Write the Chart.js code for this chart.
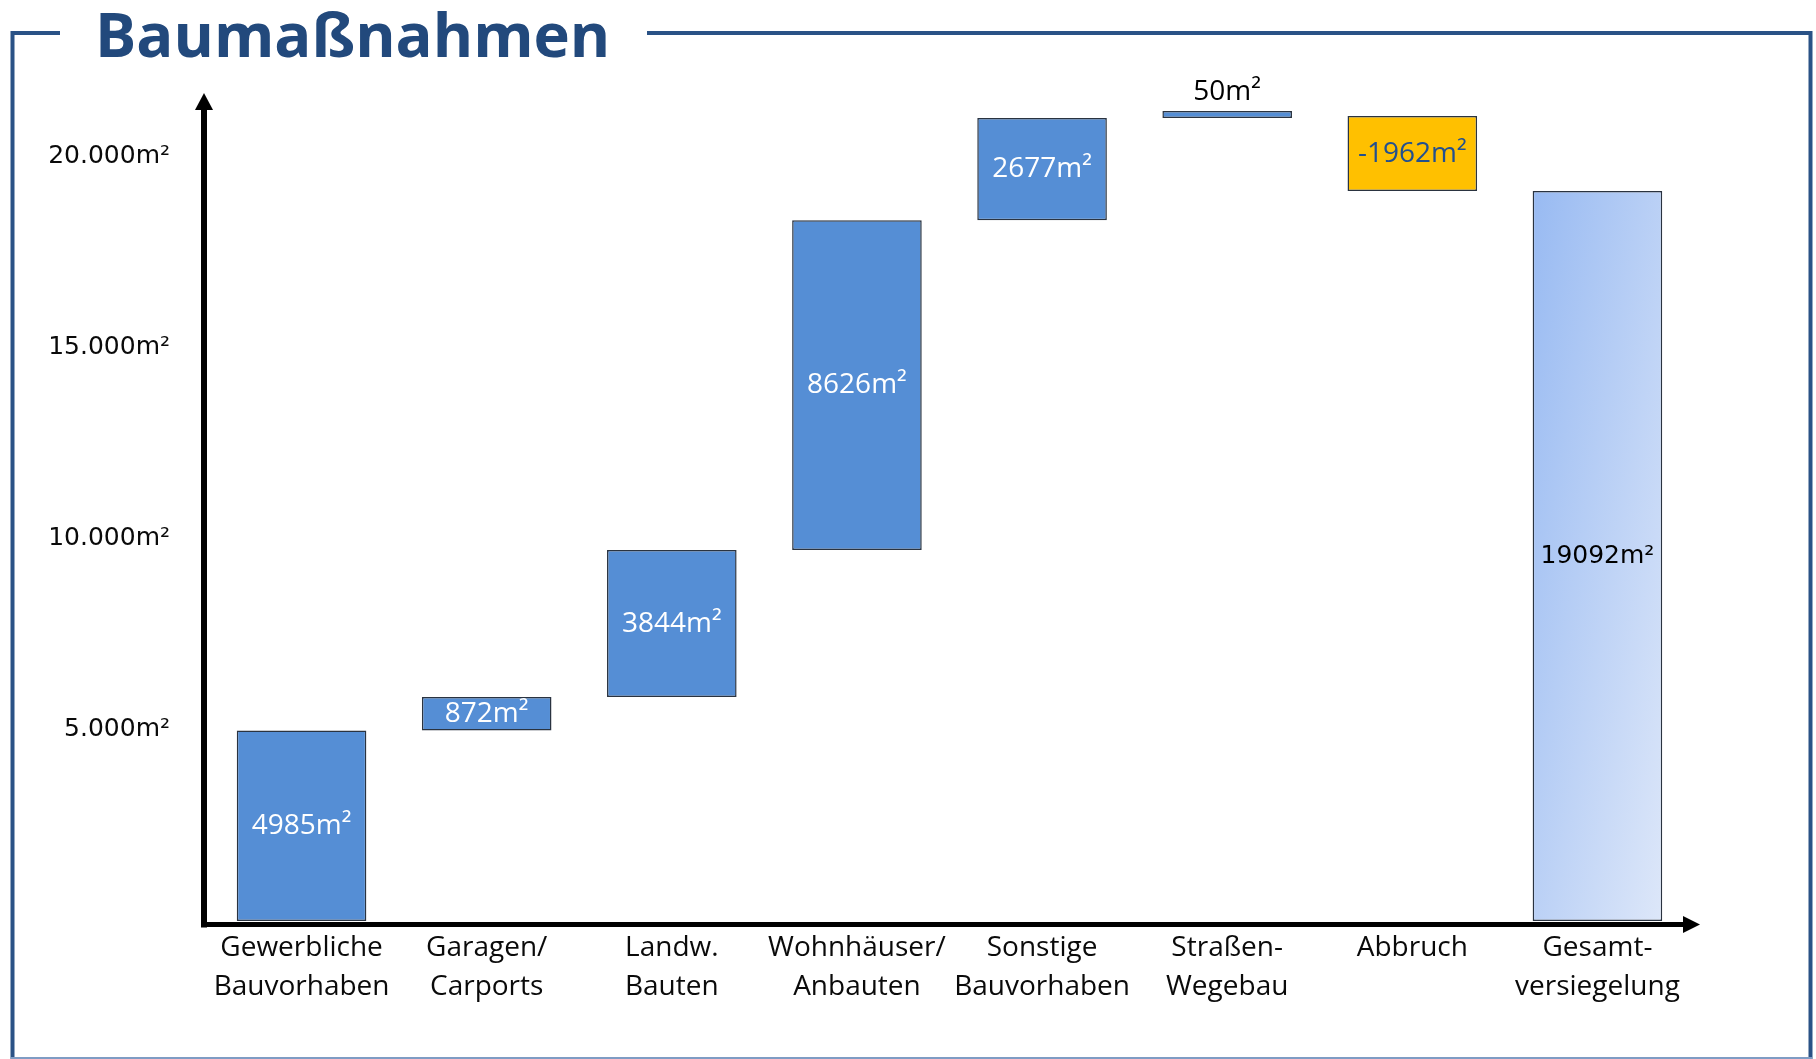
<!DOCTYPE html>
<html>
<head>
<meta charset="utf-8">
<script src="https://cdn.jsdelivr.net/npm/chart.js@4.4.1/dist/chart.umd.min.js"></script>
<style>
html,body{margin:0;padding:0;background:#ffffff;overflow:hidden}
#wrap{position:relative;width:1816px;height:1059px}
canvas{position:absolute;left:0;top:0}
#title{position:absolute;left:95px;top:3px;font-family:"Open Sans",sans-serif;font-weight:bold;font-size:61.5px;line-height:61px;color:#22497c;white-space:nowrap}
</style>
</head>
<body>
<div id="wrap">
<canvas id="c" width="1816" height="1059"></canvas>
<div id="title">Baumaßnahmen</div>
</div>
<script>
// ---- data ----
const categories = [
  ['Gewerbliche','Bauvorhaben'],
  ['Garagen/','Carports'],
  ['Landw.','Bauten'],
  ['Wohnhäuser/','Anbauten'],
  ['Sonstige','Bauvorhaben'],
  ['Straßen-','Wegebau'],
  'Abbruch',
  ['Gesamt-','versiegelung']
];
const changeValues = [4985, 872, 3844, 8626, 2677, 50, -1962, 19092];
const barStart     = [0, 4985, 5857, 9701, 18327, 21004, 19092, 0];
const barEnd       = [4985, 5857, 9701, 18327, 21004, 21054, 21054, 19092];
const yTickValues  = [5000, 10000, 15000, 20000];

// ---- styles ----
const FRAME = '#2a5286';
const BLUE = '#558ed5';
const YELLOW = '#ffc000';
const OUTLINE = '#2a3340';

function fmtThousands(v){
  return String(v).replace(/\B(?=(\d{3})+(?!\d))/g, '.');
}

function totalGradient(context){
  const chart = context.chart;
  const area = chart.chartArea;
  if (!area) return '#b4ccf5';
  const xs = chart.scales.x, ys = chart.scales.y;
  const i = context.dataIndex;
  const slot = area.width / categories.length;
  const W = slot * 0.7;
  const x0 = xs.getPixelForValue(i) - W / 2;
  const yTop = ys.getPixelForValue(barEnd[i]);
  const H = ys.getPixelForValue(barStart[i]) - yTop;
  const k = 2 * W * H / (H * H + W * W);
  const g = chart.ctx.createLinearGradient(x0, yTop, x0 + H * k, yTop + W * k);
  g.addColorStop(0, '#98baf2');
  g.addColorStop(1, '#dde7f9');
  return g;
}

const fills = [BLUE, BLUE, BLUE, BLUE, BLUE, BLUE, YELLOW, null];
const labelColors = ['#ffffff','#ffffff','#ffffff','#ffffff','#ffffff','#000000','#23508f','#000000'];

const decorPlugin = {
  id: 'decor',
  beforeDraw(chart){
    const ctx = chart.ctx;
    ctx.save();
    ctx.strokeStyle = FRAME;
    ctx.lineWidth = 4;
    ctx.lineCap = 'butt';
    ctx.beginPath();
    ctx.moveTo(12.5, 1070);
    ctx.lineTo(12.5, 33);
    ctx.lineTo(60, 33);
    ctx.moveTo(647, 33);
    ctx.lineTo(1810.5, 33);
    ctx.lineTo(1810.5, 1070);
    ctx.stroke();
    ctx.lineWidth = 2;
    ctx.strokeStyle = '#7f9cc4';
    ctx.beginPath();
    ctx.moveTo(11, 1058);
    ctx.lineTo(1812, 1058);
    ctx.stroke();
    ctx.restore();
  },
  afterDatasetsDraw(chart){
    const ctx = chart.ctx;
    const area = chart.chartArea;
    const ax = area.left - 5;       // y axis line x
    const ay = area.bottom + 3.5;   // x axis line y
    ctx.save();
    ctx.fillStyle = '#000';
    ctx.strokeStyle = '#000';
    // y axis
    ctx.lineWidth = 6;
    ctx.beginPath();
    ctx.moveTo(ax, ay + 3);
    ctx.lineTo(ax, 108);
    ctx.stroke();
    ctx.beginPath();
    ctx.moveTo(ax, 93);
    ctx.lineTo(ax - 9, 110);
    ctx.lineTo(ax + 9, 110);
    ctx.closePath();
    ctx.fill();
    // x axis
    ctx.lineWidth = 5;
    ctx.beginPath();
    ctx.moveTo(ax - 3, ay);
    ctx.lineTo(1686, ay);
    ctx.stroke();
    ctx.beginPath();
    ctx.moveTo(1700, ay);
    ctx.lineTo(1683, ay - 8.5);
    ctx.lineTo(1683, ay + 8.5);
    ctx.closePath();
    ctx.fill();

    // value labels
    const meta = chart.getDatasetMeta(0);
    ctx.textAlign = 'center';
    ctx.textBaseline = 'middle';
    meta.data.forEach((bar, i) => {
      const top = Math.min(bar.y, bar.base);
      const bottom = Math.max(bar.y, bar.base);
      let cy = (top + bottom) / 2;
      if (i === 5) cy = top - 19;
      ctx.font = (i === 7) ? '25px "DejaVu Sans"' : '28px "Open Sans"';
      ctx.fillStyle = labelColors[i];
      ctx.fillText(changeValues[i] + 'm²', bar.x, cy);
    });
    ctx.restore();
  }
};

new Chart(document.getElementById('c'), {
  type: 'bar',
  data: {
    labels: categories,
    datasets: [{
      data: barStart.map((s, i) => [s, barEnd[i]]),
      backgroundColor: (context) => {
        const i = context.dataIndex;
        return fills[i] || totalGradient(context);
      },
      borderColor: OUTLINE,
      borderWidth: 1.5,
      borderSkipped: false,
      barPercentage: 0.7,
      categoryPercentage: 1.0,
      minBarLength: 7
    }]
  },
  options: {
    responsive: false,
    devicePixelRatio: 1,
    animation: false,
    layout: { padding: { top: 99, right: 126, bottom: 0, left: 0 } },
    plugins: {
      legend: { display: false },
      title: { display: false },
      tooltip: { enabled: false }
    },
    scales: {
      x: {
        grid: { display: false, drawTicks: false },
        border: { display: false },
        ticks: {
          color: '#0a0a0a',
          font: { family: 'Open Sans', size: 28, lineHeight: 1.39 },
          padding: 8,
          maxRotation: 0,
          autoSkip: false
        },
        afterFit: (s) => { s.height = 138; }
      },
      y: {
        min: 0,
        max: 21500,
        grid: { display: false, drawTicks: false },
        border: { display: false },
        afterBuildTicks: (s) => { s.ticks = yTickValues.map(v => ({ value: v })); },
        ticks: {
          color: '#0a0a0a',
          font: { family: 'DejaVu Sans', size: 25 },
          padding: 39,
          callback: (v) => fmtThousands(v) + 'm²'
        },
        afterFit: (s) => { s.width = 209; }
      }
    }
  },
  plugins: [decorPlugin]
});
</script>
</body>
</html>
